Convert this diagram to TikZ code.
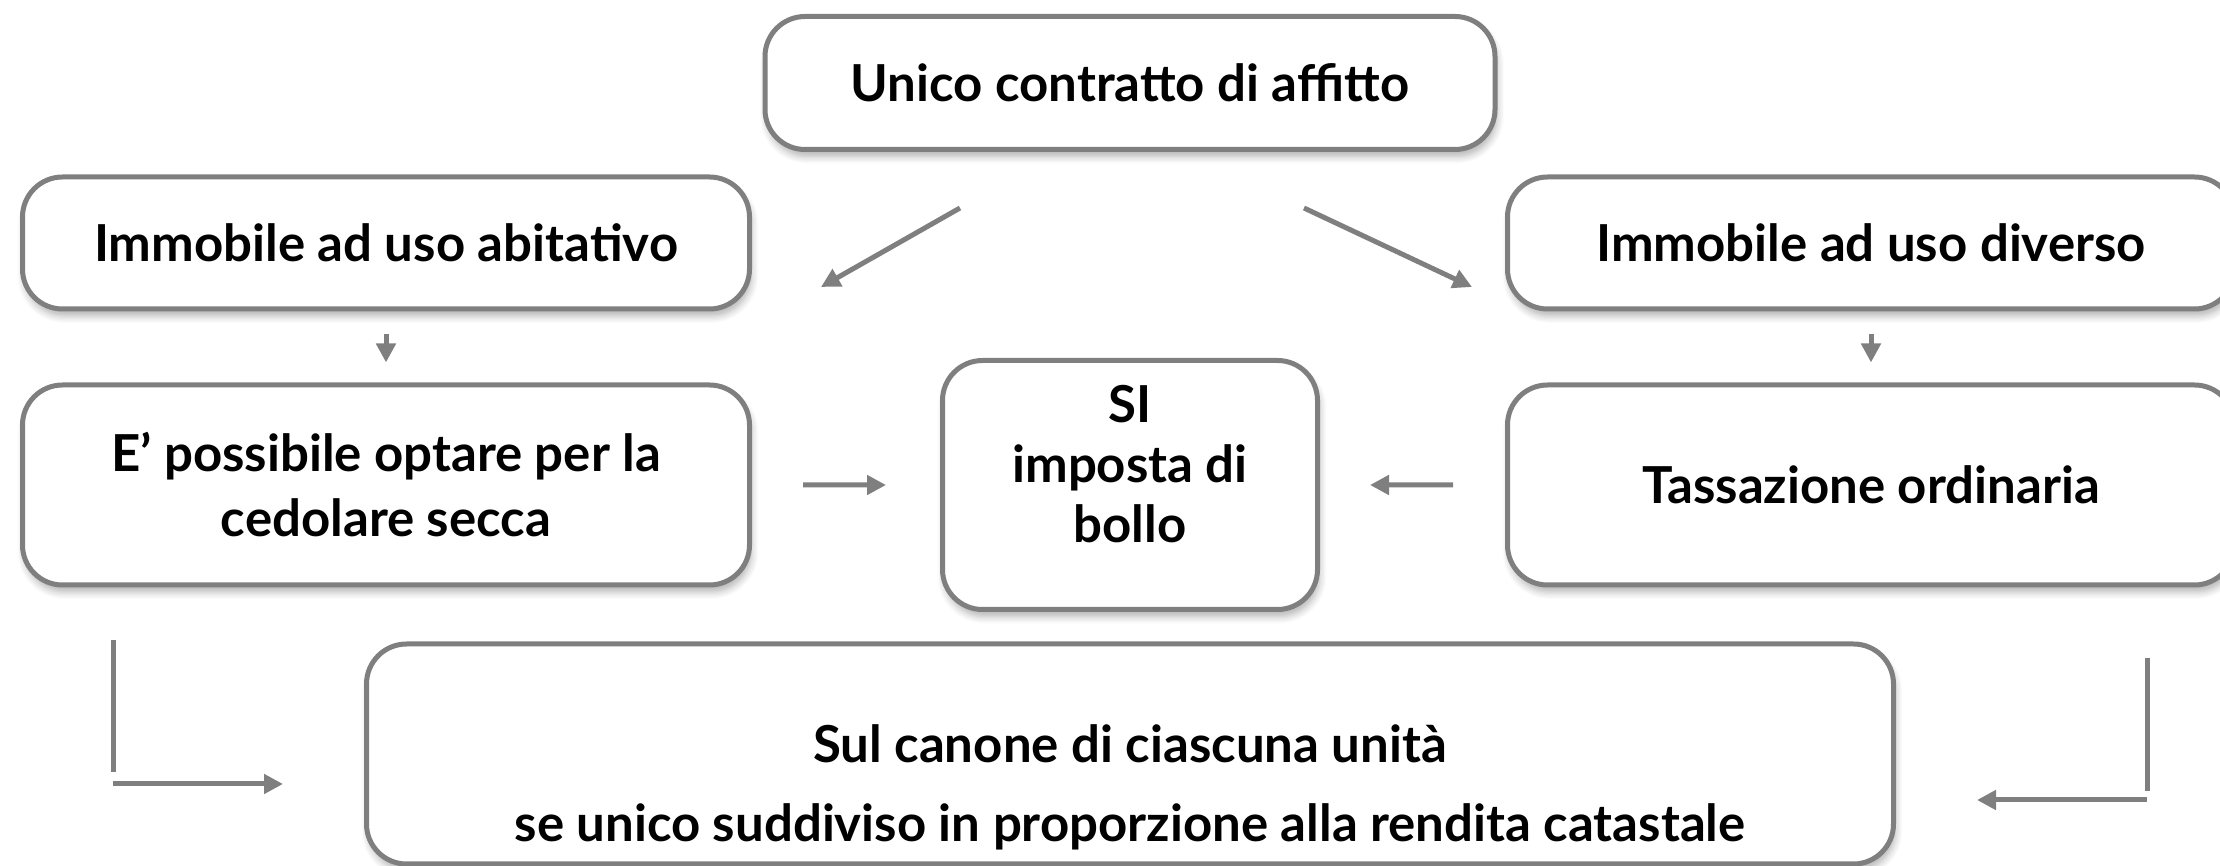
\documentclass[tikz,border=0pt]{standalone}
\usepackage{fontspec}
\setmainfont{Lato}
\usetikzlibrary{arrows.meta,positioning,calc,shadows.blur}
\definecolor{linegray}{HTML}{7F7F7F}

\begin{document}
\begin{tikzpicture}[x=0.1mm,y=-0.1mm,node distance=7.1mm,
    box/.style={draw=linegray,line width=0.5mm,rounded corners=4mm,fill=white,
      align=center,inner sep=0pt,font=\fontsize{14.5}{18.5}\selectfont\bfseries,
      blur shadow={shadow xshift=0.2mm,shadow yshift=-0.7mm,shadow opacity=30,shadow blur steps=6}},
    arr/.style={draw=linegray,line width=0.5mm,-{Triangle[length=1.9mm,width=1.9mm]}}]
  \useasboundingbox (0,0) rectangle (2220,866);

  \node[box,minimum width=73mm,minimum height=13.3mm] (contratto) at (1130,83) {Unico contratto di affitto};
  \node[box,minimum width=72.7mm,minimum height=13.2mm] (abitativo) at (386,243) {Immobile ad uso abitativo};
  \node[box,minimum width=72.7mm,minimum height=13.2mm] (diverso) at (1871,243) {Immobile ad uso diverso};
  \node[box,minimum width=72.7mm,minimum height=20mm] (cedolare) [below=of abitativo] {E' possibile optare per la\\cedolare secca};
  \node[box,minimum width=72.7mm,minimum height=20mm] (ordinaria) [below=of diverso] {Tassazione ordinaria};
  \node[box,minimum width=37.5mm,minimum height=24.9mm,font=\fontsize{14.5}{17}\selectfont\bfseries] (bollo) at (1130,485) {SI\\imposta di\\bollo\rule[-12pt]{0pt}{12pt}};
  \node[box,minimum width=152.7mm,minimum height=22mm,font=\fontsize{14.5}{22.5}\selectfont\bfseries] (canone) at (1130,754) {\rule{0pt}{30pt}Sul canone di ciascuna unità\\se unico suddiviso in proporzione alla rendita catastale};

  % free ends of the loose connectors
  \coordinate (dl1) at (960,208);  \coordinate (dl2) at (821,287);
  \coordinate (dr1) at (1304,208); \coordinate (dr2) at (1472,287);
  \coordinate (lv1) at (113,640);  \coordinate (lv2) at (113,772);
  \coordinate (lh1) at (113,784);  \coordinate (lh2) at (283,784);
  \coordinate (rv1) at (2147,658); \coordinate (rv2) at (2147,791);
  \coordinate (rh1) at (2147,800); \coordinate (rh2) at (1977,800);

  \path
    (dl1) edge[arr] (dl2)
    (dr1) edge[arr] (dr2)
    (abitativo) edge[arr,shorten <=2.3mm,shorten >=2mm] (cedolare)
    (diverso) edge[arr,shorten <=2.3mm,shorten >=2mm] (ordinaria)
    (cedolare) edge[arr,shorten <=5.1mm,shorten >=5.4mm] (bollo)
    (ordinaria) edge[arr,shorten <=5.2mm,shorten >=5mm] (bollo)
    (lh1) edge[arr] (lh2)
    (rh1) edge[arr] (rh2)
  ;
  \draw[draw=linegray,line width=0.5mm] (lv1) -- (lv2) (rv1) -- (rv2);
\end{tikzpicture}
\end{document}
